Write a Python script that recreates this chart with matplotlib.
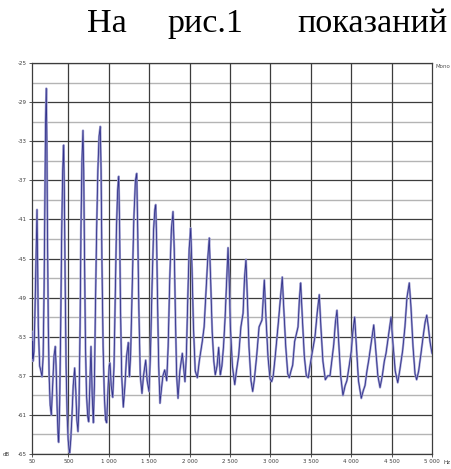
import numpy as np
import matplotlib.pyplot as plt

# spectrum trace, Hz / dB
freq = [50, 54, 58, 63, 75, 88, 100, 108, 112, 118, 128, 145, 160, 174, 188, 200, 210, 218,
        227, 234, 242, 252, 262, 275, 289, 305, 322, 338, 348, 360, 372, 380, 392, 405, 418,
        430, 442, 450, 460, 472, 485, 497, 508, 517, 530, 545, 560, 578, 592, 605, 619, 632,
        645, 656, 668, 681, 690, 700, 712, 725, 740, 752, 765, 780, 795, 809, 822, 835, 850,
        865, 880, 895, 905, 915, 930, 945, 960, 974, 990, 1005, 1015, 1030, 1049, 1065, 1080,
        1095, 1110, 1123, 1133, 1145, 1160, 1180, 1200, 1220, 1242, 1255, 1270, 1290, 1310,
        1330, 1346, 1358, 1372, 1390, 1411, 1430, 1457, 1475, 1498, 1515, 1535, 1555, 1570,
        1581, 1592, 1605, 1618, 1634, 1650, 1670, 1692, 1717, 1735, 1755, 1775, 1795, 1810,
        1825, 1840, 1857, 1880, 1910, 1930, 1943, 1960, 1978, 1995, 2014, 2030, 2048, 2070,
        2096, 2120, 2157, 2180, 2205, 2225, 2244, 2260, 2280, 2300, 2318, 2340, 2360, 2380,
        2400, 2420, 2440, 2460, 2476, 2490, 2505, 2530, 2559, 2580, 2608, 2635, 2662, 2680,
        2698, 2715, 2735, 2760, 2781, 2800, 2830, 2860, 2896, 2925, 2945, 2970, 2995, 3016,
        3035, 3060, 3098, 3125, 3147, 3165, 3190, 3215, 3234, 3255, 3276, 3300, 3342, 3360,
        3375, 3395, 3420, 3445, 3469, 3490, 3520, 3552, 3580, 3605, 3625, 3650, 3680, 3710,
        3738, 3760, 3784, 3805, 3824, 3845, 3870, 3898, 3925, 3947, 3975, 4001, 4020, 4043,
        4065, 4090, 4125, 4150, 4171, 4195, 4217, 4250, 4279, 4300, 4330, 4357, 4385, 4410,
        4431, 4460, 4493, 4515, 4545, 4576, 4600, 4637, 4665, 4690, 4719, 4740, 4765, 4790,
        4810, 4835, 4864, 4890, 4915, 4935, 4955, 4975, 5000]
level = [-52.5, -55.2, -53.5, -55.5, -54.5, -50, -45, -41.5, -40.0, -44, -52, -56, -56.5, -57.1,
         -55, -48, -38, -31, -27.6, -33, -43, -52, -57, -60, -61, -58, -55, -54, -56, -60, -63,
         -63.8, -60, -52, -42, -36, -33.4, -38, -47, -56, -61, -63.5, -64.5, -64.9, -63.5, -61,
         -58, -56.2, -58.5, -61.5, -62.7, -60, -52, -42, -35, -31.9, -36, -45, -54, -59, -61.2,
         -61.7, -58, -54, -59, -61.8, -58, -50, -42, -36, -32.5, -31.5, -36, -45, -54, -59,
         -61.5, -61.8, -58.5, -56, -55.7, -58, -59.2, -56, -49, -42, -38, -36.6, -41, -50, -57,
         -60.2, -58, -55, -53.6, -57.1, -55, -48, -41, -37, -36.3, -42, -50, -57, -58.8, -57,
         -55.4, -57.5, -58.6, -55, -48, -42, -40, -39.5, -43, -50, -56, -59.8, -58.5, -57,
         -56.4, -57.5, -54, -47, -42, -40.2, -44, -51, -57, -59.3, -56.5, -54.7, -56.5, -57.6,
         -55, -49, -44, -41.9, -46, -52, -56.5, -57.2, -55.5, -53.5, -52, -48.2, -45, -42.9,
         -47, -52.5, -55.5, -56.9, -56, -54.1, -56.9, -56, -54, -51, -47, -43.9, -47, -52, -56,
         -57.9, -56.5, -54.9, -52, -50.6, -47, -45.1, -49, -54, -57.5, -58.6, -57.5, -55, -52,
         -51.3, -47.2, -51, -55, -57.3, -57.6, -57, -55, -51.6, -49, -46.9, -50, -54, -56.8,
         -57.2, -56.5, -55.9, -53.5, -52, -49, -47.5, -51, -55, -57, -57.2, -56, -54.5, -53,
         -50.5, -48.7, -52, -55.5, -57.4, -57, -57, -55.5, -53.8, -51.5, -50.3, -53.5, -57,
         -59, -58, -57.5, -56, -54.5, -52.5, -51, -54, -57.5, -59.3, -58.5, -58, -56.5, -55.4,
         -53.5, -51.8, -54, -57, -58.2, -57, -55.5, -54.7, -53, -51, -53.5, -56.5, -57.7,
         -56.5, -54.4, -52, -49, -47.5, -50, -54, -56.8, -57.4, -56.5, -54.7, -53, -51.5,
         -50.8, -52, -53.5, -54.7]

y_ticks = [-25, -29, -33, -37, -41, -45, -49, -53, -57, -61, -65]
x_ticks = [50, 500, 1000, 1500, 2000, 2500, 3000, 3500, 4000, 4500, 5000]
x_labels = ['50', '500', '1 000', '1 500', '2 000', '2 500', '3 000', '3 500', '4 000', '4 500', '5 000']

fig = plt.figure(figsize=(4.52, 4.69), dpi=100)
ax = fig.add_axes([32/452, 1 - 454/469, 400/452, 391/469])

# grid: labelled levels dark, half steps light
for v in np.arange(-27, -64, -4):
    ax.axhline(v, color='#b4b4b4', lw=1.0, zorder=1)
for v in y_ticks:
    ax.axhline(v, color='#3c3c3c', lw=0.9, zorder=1)
for v in x_ticks[1:-1]:
    ax.axvline(v, color='#3c3c3c', lw=0.9, zorder=1)

ax.plot(freq, level, color='#a0a0d0', lw=1.6, zorder=3)
ax.plot(freq, level, color='#30308a', lw=0.6, zorder=4)

ax.set_xlim(50, 5000)
ax.set_ylim(-65, -25)
ax.set_yticks(y_ticks)
ax.set_yticklabels([str(v) for v in y_ticks])
ax.set_xticks(x_ticks)
ax.set_xticklabels(x_labels)
ax.tick_params(labelsize=4, colors='#3c3c3c', length=2, width=0.6, pad=1.5)
for s in ax.spines.values():
    s.set_color('#3c3c3c')
    s.set_linewidth(0.9)

ax.text(-0.072, 0.0, 'dB', transform=ax.transAxes, fontsize=4, color='#3c3c3c',
        ha='left', va='center')
ax.text(1.028, -0.021, 'Hz', transform=ax.transAxes, fontsize=4, color='#3c3c3c',
        ha='left', va='center')
ax.text(1.008, 0.99, 'Mono', transform=ax.transAxes, fontsize=4, color='#555555',
        ha='left', va='center')

# heading line from the document page
for x0, word in [(87, 'На'), (167, 'рис.1'), (297, 'показаний')]:
    fig.text(x0/452, 1 - 32/469, word, fontsize=24.5, family='Liberation Serif',
             ha='left', va='baseline', color='black')

fig.savefig('out.png', dpi=100)
plt.close(fig)
